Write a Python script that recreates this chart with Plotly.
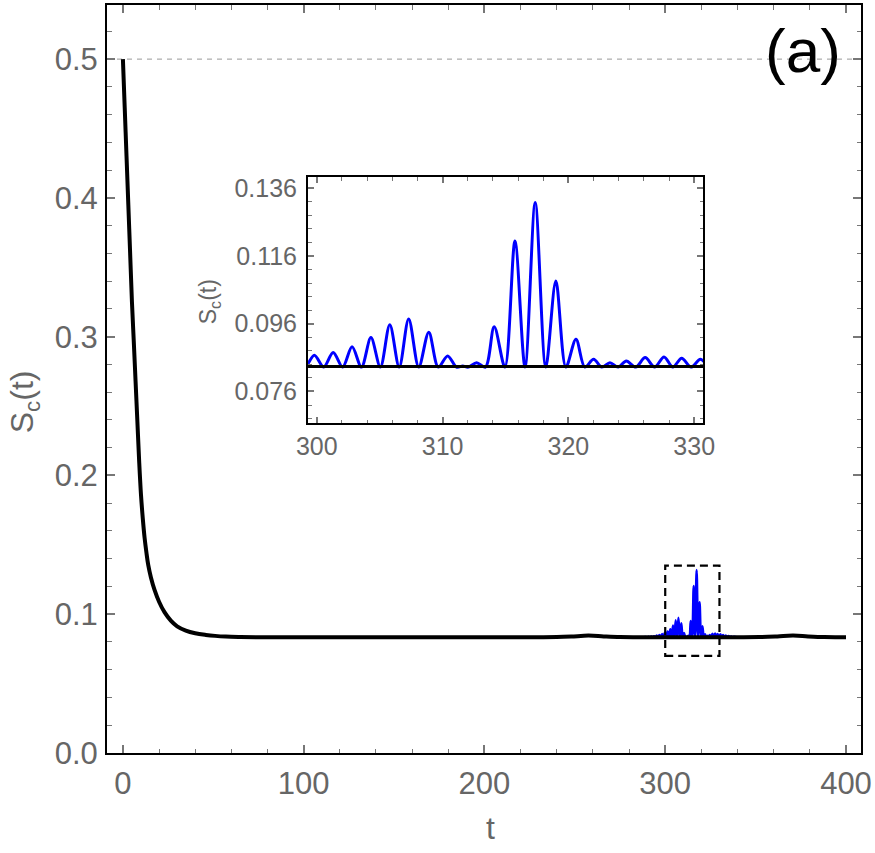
import plotly.graph_objects as go

# ---------------- data ----------------
# main black curve S_c(t)
t_black = [0, 1, 2, 3, 4, 5, 6, 7, 8, 9, 10, 11, 12, 13, 14, 15.5, 17.5, 20, 23, 26.5, 30,
           34.8, 40, 45.9, 51, 56.9, 65, 75, 90, 120, 160, 200, 230, 240, 248, 257.5, 266,
           275, 285, 300, 320, 340, 352, 362, 370.7, 379, 388, 395, 400]
s_black = [0.5, 0.465, 0.43, 0.395, 0.36, 0.325, 0.297, 0.268, 0.239, 0.210, 0.186, 0.169,
           0.155, 0.1445, 0.1355, 0.1265, 0.1175, 0.109, 0.1015, 0.0954, 0.0913, 0.0882, 0.0863,
           0.0851, 0.0844, 0.0839, 0.0836, 0.0834, 0.0834, 0.0834, 0.0834, 0.0834, 0.0834,
           0.0835, 0.0839, 0.0846, 0.0840, 0.0835, 0.0834, 0.0834, 0.0834, 0.0834, 0.0835,
           0.0840, 0.0846, 0.0840, 0.0835, 0.0834, 0.0834]

# blue curve (oscillating burst around t = 290 - 340), peaks and troughs
t_blue = [288.0, 289.3, 290.05, 290.8, 291.55, 292.3, 293.05, 293.8, 294.55, 295.3, 296.05,
          296.8, 297.55, 298.3, 299.05, 299.8, 300.55, 301.3, 302.05, 302.8, 303.55, 304.3,
          305.05, 305.8, 306.55, 307.3, 308.1, 308.9, 309.65, 310.4, 311.1, 311.6, 312.05,
          312.7, 313.4, 314.1, 314.95, 315.75, 316.55, 317.36, 318.2, 319.0, 319.8, 320.6,
          321.3, 322.0, 322.65, 323.3, 323.95, 324.6, 325.35, 326.1, 326.85, 327.6, 328.3,
          329.0, 329.75, 330.5, 331.25, 332.0, 332.75, 333.5, 334.25, 335.0, 335.75, 336.5,
          337.25, 338.0, 339.5]
s_blue = [0.0834, 0.0836, 0.0832, 0.0837, 0.0832, 0.0839, 0.0832, 0.0842, 0.0832, 0.0846, 0.0832,
          0.0851, 0.0832, 0.0858, 0.0832, 0.0867, 0.0832, 0.0875, 0.0832, 0.0892, 0.0832, 0.0919,
          0.0832, 0.0957, 0.0832, 0.0974, 0.0832, 0.0935, 0.0832, 0.0865, 0.0832, 0.0835, 0.0832,
          0.0845, 0.0832, 0.0951, 0.0832, 0.1204, 0.0832, 0.1318, 0.0832, 0.1086, 0.0832, 0.0914,
          0.0832, 0.0855, 0.0832, 0.0845, 0.0832, 0.0850, 0.0832, 0.0860, 0.0832, 0.0862, 0.0832,
          0.0858, 0.0832, 0.0855, 0.0832, 0.0851, 0.0832, 0.0847, 0.0832, 0.0843, 0.0832, 0.0840,
          0.0832, 0.0837, 0.0834]

main_xticks = [0, 100, 200, 300, 400]
main_yticks = [0.0, 0.1, 0.2, 0.3, 0.4, 0.5]
inset_xticks = [300, 310, 320, 330]
inset_yticks = [0.076, 0.096, 0.116, 0.136]
box_t = [300, 330]
box_s = [0.07, 0.135]
ref_level = 0.5

# ---------------- figure ----------------
FONT = "Liberation Sans, Arial, sans-serif"
GRAY = "#666666"
TICKC = "#777777"

fig = go.Figure()

# main panel
fig.add_trace(go.Scatter(x=t_blue, y=s_blue, mode="lines", line=dict(color="#0000ff", width=2.5,
                         shape="spline", smoothing=0.9), xaxis="x", yaxis="y", hoverinfo="skip"))
fig.add_trace(go.Scatter(x=t_black, y=s_black, mode="lines", line=dict(color="black", width=4,
                         shape="spline", smoothing=1.0), xaxis="x", yaxis="y", hoverinfo="skip"))
# inset
fig.add_trace(go.Scatter(x=t_blue, y=s_blue, mode="lines", line=dict(color="#0000ff", width=3,
                         shape="spline", smoothing=0.9), xaxis="x2", yaxis="y2", hoverinfo="skip"))
fig.add_trace(go.Scatter(x=t_black, y=s_black, mode="lines", line=dict(color="black", width=3,
                         shape="spline", smoothing=1.0), xaxis="x2", yaxis="y2", hoverinfo="skip"))

common = dict(showline=True, mirror="allticks", linecolor="black", linewidth=2,
              ticks="inside", tickcolor=TICKC, tickwidth=1.5, showgrid=False, zeroline=False)

fig.update_layout(
    width=875, height=853,
    margin=dict(l=107, r=14, t=2, b=100),
    paper_bgcolor="white", plot_bgcolor="white",
    showlegend=False,
    font=dict(family=FONT, color=GRAY),
    xaxis=dict(domain=[0, 1], range=[-8.8, 408.3], tickvals=main_xticks, ticklen=8,
               tickfont=dict(size=31, color=GRAY), ticklabelstandoff=2,
               minor=dict(dtick=20, tick0=0, ticklen=4.5, ticks="inside", tickcolor=TICKC, tickwidth=1.2),
               anchor="y", **common),
    yaxis=dict(domain=[0, 1], range=[0, 0.539], tickvals=main_yticks, tickformat=".1f", ticklen=8,
               tickfont=dict(size=31, color=GRAY), ticklabelstandoff=1,
               minor=dict(dtick=0.02, tick0=0, ticklen=4.5, ticks="inside", tickcolor=TICKC, tickwidth=1.2),
               anchor="x", **common),
    xaxis2=dict(domain=[0.2666, 0.7905], range=[299.3, 330.7], tickvals=inset_xticks, ticklen=6,
                tickfont=dict(size=25, color=GRAY), ticklabelstandoff=0,
                minor=dict(dtick=2, tick0=300, ticklen=3.5, ticks="inside", tickcolor=TICKC, tickwidth=1.2),
                anchor="y2", **common),
    yaxis2=dict(domain=[0.4407, 0.7696], range=[0.0666, 0.1392], tickvals=inset_yticks,
                tickformat=".3f", ticklen=6,
                tickfont=dict(size=25, color=GRAY), ticklabelstandoff=4,
                minor=dict(dtick=0.004, tick0=0.076, ticklen=3.5, ticks="inside", tickcolor=TICKC, tickwidth=1.2),
                anchor="x2", **common),
)

fig.add_shape(type="line", xref="x domain", yref="y", x0=0, x1=1, y0=ref_level, y1=ref_level,
              line=dict(color="#999999", width=1, dash="5px,5px"), layer="below")
fig.add_shape(type="rect", xref="x", yref="y", x0=box_t[0], x1=box_t[1], y0=box_s[0], y1=box_s[1],
              line=dict(color="black", width=2.2, dash="8px,5px"))

fig.add_annotation(text="S<sub>c</sub>(t)", xref="paper", yref="paper", x=-0.109, y=0.47,
                   textangle=-90, showarrow=False, font=dict(size=32, color=GRAY),
                   xanchor="center", yanchor="middle")
fig.add_annotation(text="t", xref="paper", yref="paper", x=0.508, y=-0.0999,
                   showarrow=False, font=dict(size=32, color=GRAY), xanchor="center", yanchor="middle")
fig.add_annotation(text="(a)", xref="paper", yref="paper", x=0.923, y=0.9387,
                   showarrow=False, font=dict(size=62, color="black"), xanchor="center", yanchor="middle")
fig.add_annotation(text="S<sub>c</sub>(t)", xref="paper", yref="paper", x=0.137, y=0.603,
                   textangle=-90, showarrow=False, font=dict(size=23, color=GRAY),
                   xanchor="center", yanchor="middle")

fig.write_html("out.html")
